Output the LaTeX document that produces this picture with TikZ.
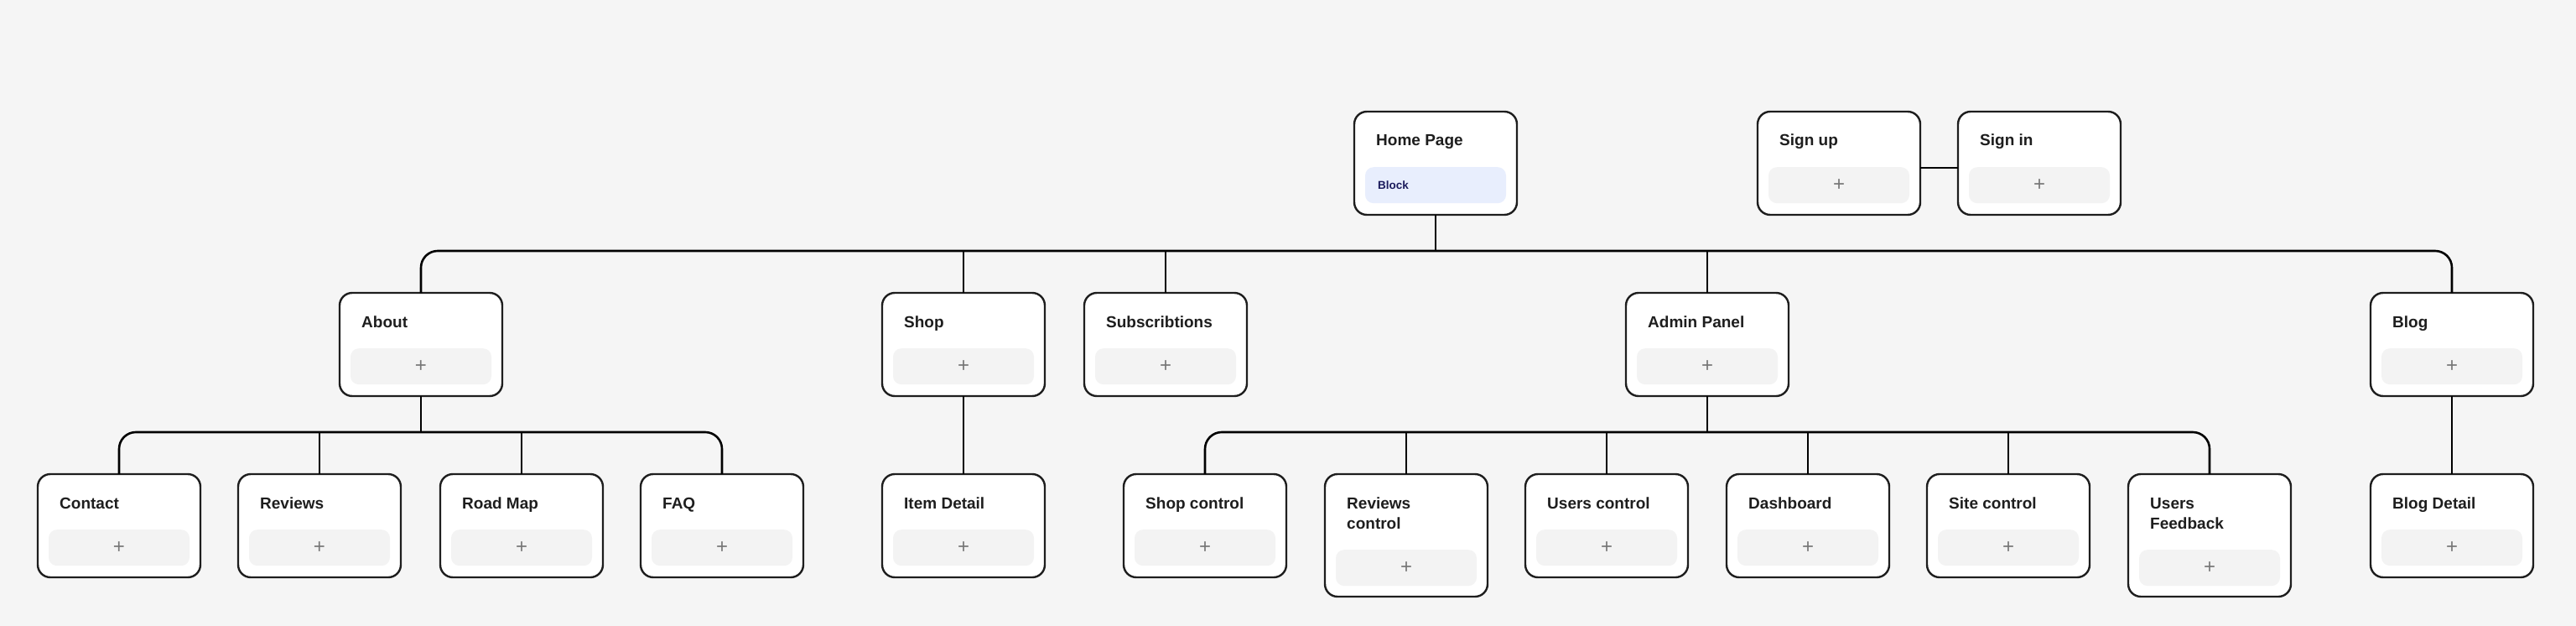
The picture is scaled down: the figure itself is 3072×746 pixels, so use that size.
\documentclass[tikz,border=0pt]{standalone}
\usepackage{fontspec}
\setmainfont{Liberation Sans}
\usetikzlibrary{calc}
\definecolor{bgc}{HTML}{F5F5F5}
\definecolor{linec}{HTML}{1E1E1E}
\definecolor{blockc}{HTML}{F3F3F3}
\definecolor{bluec}{HTML}{E8EEFD}
\definecolor{navyc}{HTML}{1B1B5C}
\definecolor{plusc}{HTML}{777777}
\tikzset{
  card/.style={draw=linec, line width=2.4pt, fill=white, rounded corners=15pt,
    minimum width=194pt, anchor=north west, inner sep=0pt, outer sep=0pt},
  cardtitle/.style={anchor=base west, inner sep=0pt, align=left, text=linec,
    font=\fontsize{19}{24}\selectfont\bfseries},
  plusblock/.style={fill=blockc, rounded corners=10pt, minimum width=168pt,
    minimum height=43pt, inner sep=0pt, anchor=north, text=plusc,
    font=\fontsize{24}{24}\selectfont},
  wire/.style={draw=black, line width=2.6pt, rounded corners=20pt}
}
\newcommand\mkcard[6]{%
  \node[card, minimum height=#4pt] (#1) at (#2,#3) {};
  \node[cardtitle] (#1-t) at ($(#1.north west)+(26,41)$) {\begin{tabular}[t]{@{}l@{}}#5\end{tabular}};
  \node[plusblock] (#1-b) at ($(#1.north west)+(97,#6)$) {+};
}
\begin{document}
\begin{tikzpicture}[x=1pt,y=-1pt]
\useasboundingbox (0,0) rectangle (3072,746);
\fill[bgc] (0,0) rectangle (3072,746);

% level coordinates
\coordinate (busA) at (0,299);
\coordinate (busB) at (0,515);
\coordinate (suy) at (0,200);

% Row 0
\node[card, minimum height=123pt] (home) at (1615,133) {};
\node[cardtitle] (home-t) at ($(home.north west)+(26,41)$) {Home Page};
\node[plusblock, fill=bluec] (home-b) at ($(home.north west)+(97,66)$) {};
\node[anchor=west, inner sep=0pt, text=navyc, font=\fontsize{13.5}{16}\selectfont\bfseries] (home-bt) at ($(home-b.west)+(15,0)$) {Block};
\mkcard{signup}{2096}{133}{123}{Sign up}{66}
\mkcard{signin}{2335}{133}{123}{Sign in}{66}

% Row 1
\mkcard{about}{405}{349}{123}{About}{66}
\mkcard{shop}{1052}{349}{123}{Shop}{66}
\mkcard{subs}{1293}{349}{123}{Subscribtions}{66}
\mkcard{admin}{1939}{349}{123}{Admin Panel}{66}
\mkcard{blog}{2827}{349}{123}{Blog}{66}

% Row 2
\mkcard{contact}{45}{565}{123}{Contact}{66}
\mkcard{reviews}{284}{565}{123}{Reviews}{66}
\mkcard{roadmap}{525}{565}{123}{Road Map}{66}
\mkcard{faq}{764}{565}{123}{FAQ}{66}
\mkcard{item}{1052}{565}{123}{Item Detail}{66}
\mkcard{shopc}{1340}{565}{123}{Shop control}{66}
\mkcard{revc}{1580}{565}{146}{Reviews\\control}{90}
\mkcard{usersc}{1819}{565}{123}{Users control}{66}
\mkcard{dash}{2059}{565}{123}{Dashboard}{66}
\mkcard{sitec}{2298}{565}{123}{Site control}{66}
\mkcard{feedback}{2538}{565}{146}{Users\\Feedback}{90}
\mkcard{blogd}{2827}{565}{123}{Blog Detail}{66}

% main bus
\draw[wire] (about.north) |- (blog.north |- busA) -- (blog.north);
\draw[wire] (home.south) -- (home.south |- busA);
\draw[wire] (shop.north) -- (shop.north |- busA);
\draw[wire] (subs.north) -- (subs.north |- busA);
\draw[wire] (admin.north) -- (admin.north |- busA);

% about bus
\draw[wire] (contact.north) |- (faq.north |- busB) -- (faq.north);
\draw[wire] (about.south) -- (about.south |- busB);
\draw[wire] (reviews.north) -- (reviews.north |- busB);
\draw[wire] (roadmap.north) -- (roadmap.north |- busB);

% admin bus
\draw[wire] (shopc.north) |- (feedback.north |- busB) -- (feedback.north);
\draw[wire] (admin.south) -- (admin.south |- busB);
\draw[wire] (revc.north) -- (revc.north |- busB);
\draw[wire] (usersc.north) -- (usersc.north |- busB);
\draw[wire] (dash.north) -- (dash.north |- busB);
\draw[wire] (sitec.north) -- (sitec.north |- busB);

% straight links
\draw[wire] (shop.south) -- (item.north);
\draw[wire] (blog.south) -- (blogd.north);
\draw[wire] (signup.east |- suy) -- (signin.west |- suy);
\end{tikzpicture}
\end{document}
